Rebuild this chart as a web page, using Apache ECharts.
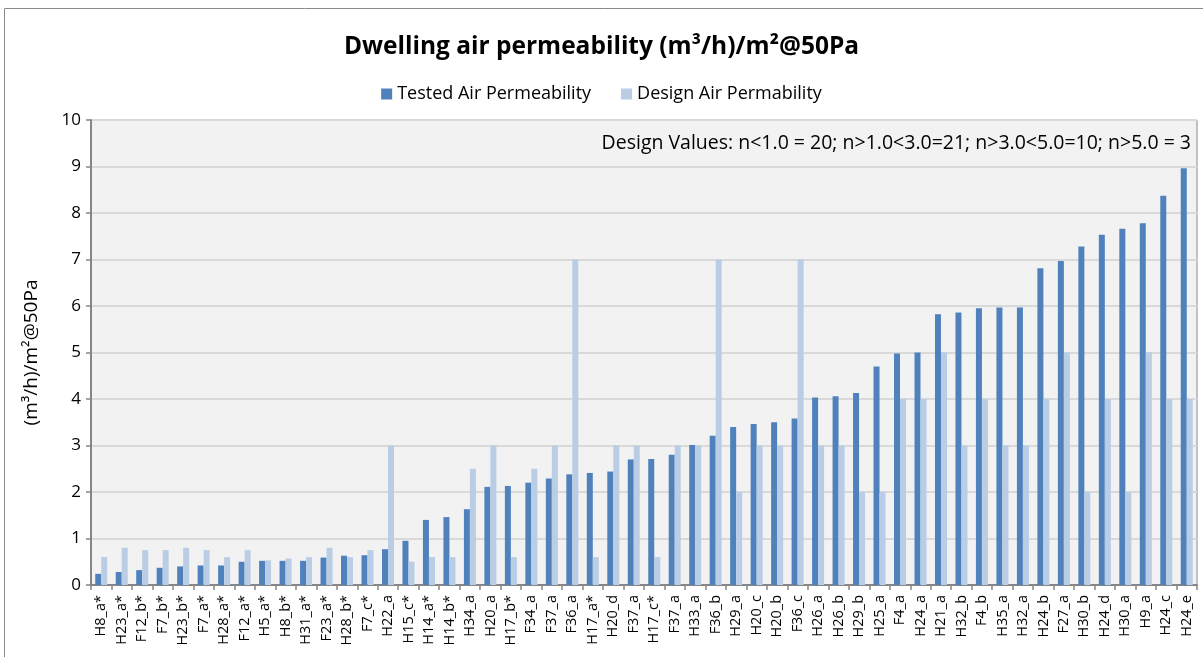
<!DOCTYPE html>
<html>
<head>
<meta charset="utf-8">
<script src="https://cdn.jsdelivr.net/npm/echarts@6/dist/echarts.min.js"></script>
<style>
  html, body { margin: 0; padding: 0; background: #fff; }
  #chart { width: 1203px; height: 657px; }
</style>
</head>
<body>
<div id="chart"></div>
<script>
const dwellings = [
  'H8_a*', 'H23_a*', 'F12_b*', 'F7_b*', 'H23_b*', 'F7_a*', 'H28_a*', 'F12_a*', 'H5_a*', 'H8_b*',
  'H31_a*', 'F23_a*', 'H28_b*', 'F7_c*', 'H22_a', 'H15_c*', 'H14_a*', 'H14_b*', 'H34_a', 'H20_a',
  'H17_b*', 'F34_a', 'F37_a', 'F36_a', 'H17_a*', 'H20_d', 'F37_a', 'H17_c*', 'F37_a', 'H33_a',
  'F36_b', 'H29_a', 'H20_c', 'H20_b', 'F36_c', 'H26_a', 'H26_b', 'H29_b', 'H25_a', 'F4_a',
  'H24_a', 'H21_a', 'H32_b', 'F4_b', 'H35_a', 'H32_a', 'H24_b', 'F27_a', 'H30_b', 'H24_d',
  'H30_a', 'H9_a', 'H24_c', 'H24_e'
]

const tested = [
  0.24, 0.28, 0.32, 0.37, 0.40, 0.42, 0.42, 0.50, 0.52, 0.52,
  0.52, 0.59, 0.63, 0.64, 0.77, 0.95, 1.40, 1.46, 1.63, 2.11,
  2.13, 2.20, 2.29, 2.38, 2.41, 2.44, 2.70, 2.71, 2.80, 3.01,
  3.21, 3.40, 3.46, 3.50, 3.58, 4.03, 4.06, 4.13, 4.70, 4.98,
  5.00, 5.82, 5.86, 5.95, 5.97, 5.97, 6.81, 6.97, 7.28, 7.53,
  7.66, 7.78, 8.37, 8.96
]

const design = [
  0.6, 0.8, 0.75, 0.75, 0.8, 0.75, 0.6, 0.75, 0.53, 0.57,
  0.6, 0.8, 0.6, 0.75, 3, 0.5, 0.6, 0.6, 2.5, 3,
  0.6, 2.5, 3, 7, 0.6, 3, 3, 0.6, 3, 3,
  7, 2, 3, 3, 7, 3, 3, 2, 2, 4,
  4, 5, 3, 4, 3, 3, 4, 5, 2, 4,
  2, 5, 4, 4
]

const yTicks = [0, 1, 2, 3, 4, 5, 6, 7, 8, 9, 10]

const font = '"Open Sans", "Noto Sans", sans-serif'
const chart = echarts.init(document.getElementById('chart'))

chart.setOption({
  animation: false,
  textStyle: { fontFamily: font },
  title: {
    text: 'Dwelling air permeability (m³/h)/m²@50Pa',
    left: 'center',
    top: 30,
    textStyle: { fontSize: 24.5, fontWeight: 'bold', color: '#000', fontFamily: font }
  },
  legend: {
    top: 80,
    left: 'center',
    itemWidth: 11,
    itemHeight: 11,
    itemGap: 30,
    icon: 'rect',
    textStyle: { fontSize: 18, color: '#000' },
    data: ['Tested Air Permeability', 'Design Air Permability']
  },
  graphic: [
    {
      type: 'rect',
      shape: { x: 4.5, y: 8.5, width: 1220, height: 700 },
      style: { fill: 'none', stroke: '#8a8a8a', lineWidth: 1 },
      silent: true
    },
    {
      type: 'text',
      right: 12,
      top: 133,
      style: {
        text: 'Design Values: n<1.0 = 20; n>1.0<3.0=21; n>3.0<5.0=10; n>5.0 = 3',
        font: '19.5px ' + font,
        fill: '#000'
      }
    }
  ],
  grid: {
    left: 91,
    top: 120,
    width: 1106,
    height: 465,
    show: true,
    backgroundColor: '#f2f2f2',
    borderColor: '#8a8a8a',
    borderWidth: 1
  },
  xAxis: {
    type: 'category',
    data: dwellings,
    axisLine: { lineStyle: { color: '#868686', width: 2 } },
    axisTick: { show: true, length: 5, alignWithLabel: false, lineStyle: { color: '#868686', width: 1.5 } },
    axisLabel: { rotate: 90, interval: 0, fontSize: 14.5, color: '#000', margin: 10 }
  },
  yAxis: {
    type: 'value',
    min: yTicks[0],
    max: yTicks[yTicks.length - 1],
    interval: 1,
    name: '(m³/h)/m²@50Pa',
    nameLocation: 'middle',
    nameGap: 50,
    nameRotate: 90,
    nameTextStyle: { fontSize: 19, color: '#000' },
    axisLine: { show: true, lineStyle: { color: '#868686', width: 2 } },
    axisTick: { show: true, length: 5, lineStyle: { color: '#868686', width: 1.5 } },
    axisLabel: { fontSize: 17, color: '#000', margin: 10 },
    splitLine: { lineStyle: { color: '#d9d9d9', width: 2 } }
  },
  series: [
    {
      name: 'Tested Air Permeability',
      type: 'bar',
      data: tested,
      barWidth: 6,
      barGap: '0%',
      itemStyle: { color: '#4f81bd' }
    },
    {
      name: 'Design Air Permability',
      type: 'bar',
      data: design,
      barWidth: 6,
      itemStyle: { color: '#b9cde5' }
    }
  ]
})
</script>
</body>
</html>
